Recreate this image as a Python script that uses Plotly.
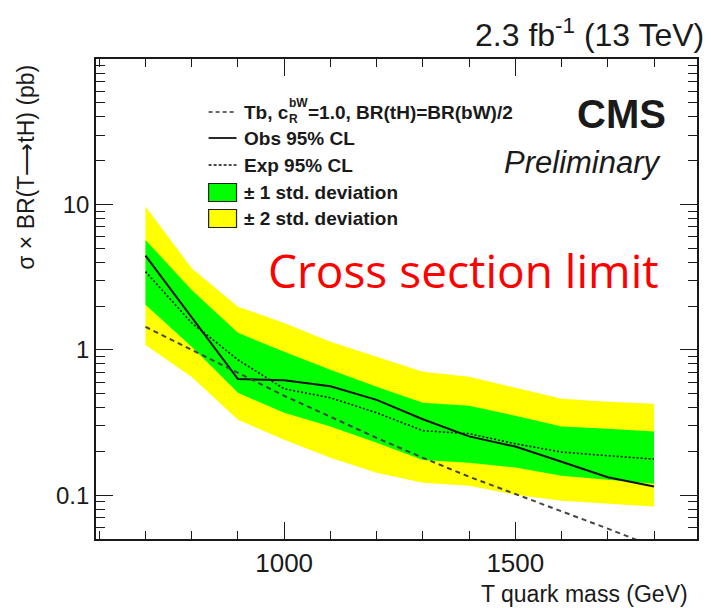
import numpy as np
import plotly.graph_objects as go

# ---------------- data ----------------
mass = [700, 800, 900, 1000, 1100, 1200, 1300, 1400, 1500, 1600, 1700, 1800]
obs_limit = [4.45, 1.66, 0.629, 0.617, 0.561, 0.453, 0.333, 0.254, 0.216, 0.170, 0.133, 0.115]
exp_limit = [3.45, 1.53, 0.854, 0.539, 0.468, 0.369, 0.278, 0.265, 0.226, 0.198, 0.187, 0.177]
one_sigma_up = [5.70, 2.58, 1.31, 0.969, 0.729, 0.557, 0.432, 0.412, 0.352, 0.297, 0.286, 0.274]
one_sigma_dn = [2.04, 1.05, 0.506, 0.369, 0.297, 0.230, 0.175, 0.167, 0.155, 0.136, 0.128, 0.120]
two_sigma_up = [9.66, 3.64, 1.98, 1.53, 1.135, 0.895, 0.706, 0.652, 0.548, 0.460, 0.439, 0.426]
two_sigma_dn = [1.08, 0.65, 0.330, 0.241, 0.181, 0.143, 0.122, 0.116, 0.1007, 0.0917, 0.0874, 0.0838]
theory_xsec = [1.44, 1.00, 0.695, 0.483, 0.347, 0.248, 0.181, 0.134, 0.102, 0.078, 0.0589, 0.0443]

x_major = [1000, 1500]
x_minor = [600, 700, 800, 900, 1100, 1200, 1300, 1400, 1600, 1700, 1800]
y_major = [0.1, 1, 10]
y_major_text = ["0.1", "1", "10"]
y_minor = [0.05, 0.06, 0.07, 0.08, 0.09, 0.2, 0.3, 0.4, 0.5, 0.6, 0.7, 0.8, 0.9,
           2, 3, 4, 5, 6, 7, 8, 9, 20, 30, 40, 50, 60, 70, 80, 90]

legend_labels = ["Obs 95% CL", "Exp 95% CL", "\u00b1 1 std. deviation", "\u00b1 2 std. deviation"]

# ---------------- layout geometry ----------------
W, H = 711, 608
L, R, T, B = 96, 699, 59, 539
FONT = "Liberation Sans, Arial, sans-serif"
INK = "#1a1a1a"


def px(xp):
    return (xp - L) / (R - L)


def py(yp):
    return (B - yp) / (B - T)


fig = go.Figure()

# bands
fig.add_trace(go.Scatter(x=mass + mass[::-1], y=two_sigma_up + two_sigma_dn[::-1],
                         fill="toself", fillcolor="#ffff00", line=dict(width=0),
                         mode="lines", hoverinfo="skip"))
fig.add_trace(go.Scatter(x=mass + mass[::-1], y=one_sigma_up + one_sigma_dn[::-1],
                         fill="toself", fillcolor="#00ff00", line=dict(width=0),
                         mode="lines", hoverinfo="skip"))
# lines
fig.add_trace(go.Scatter(x=mass, y=exp_limit, mode="lines",
                         line=dict(color="#111", width=1.6, dash="2px,2px")))
fig.add_trace(go.Scatter(x=mass, y=obs_limit, mode="lines",
                         line=dict(color="#111", width=2)))
fig.add_trace(go.Scatter(x=mass, y=theory_xsec, mode="lines",
                         line=dict(color="#444", width=2, dash="5px,4px")))

fig.update_layout(
    width=W, height=H,
    margin=dict(l=L, r=W - R, t=T, b=H - B),
    plot_bgcolor="white", paper_bgcolor="white",
    showlegend=False,
    font=dict(family=FONT, color=INK),
)

fig.update_xaxes(
    range=[593, 1893], showgrid=False, zeroline=False,
    showline=True, linecolor=INK, linewidth=1.6, mirror="allticks",
    ticks="inside", ticklen=17, tickwidth=1.4, tickcolor=INK,
    tickmode="array", tickvals=x_major, ticktext=[str(v) for v in x_major],
    tickfont=dict(size=26, family=FONT, color=INK),
    minor=dict(tickmode="array", tickvals=x_minor, ticks="inside", ticklen=8,
               tickwidth=1.2, tickcolor=INK, showgrid=False),
)
fig.update_yaxes(
    type="log", range=[np.log10(0.05), 2], showgrid=False, zeroline=False,
    showline=True, linecolor=INK, linewidth=1.6, mirror="allticks",
    ticks="inside", ticklen=17, tickwidth=1.4, tickcolor=INK,
    tickmode="array", tickvals=y_major, ticktext=y_major_text,
    tickfont=dict(size=24, family=FONT, color=INK),
    minor=dict(tickmode="array", tickvals=y_minor, ticks="inside", ticklen=9,
               tickwidth=1.2, tickcolor=INK, showgrid=False),
)

ann = []


def text(t, xp, yp, size, xanchor="left", yanchor="middle", color=INK, family=FONT,
         angle=0, align="center"):
    ann.append(dict(text=t, x=px(xp), y=py(yp), xref="paper", yref="paper",
                    xanchor=xanchor, yanchor=yanchor, showarrow=False, align=align,
                    borderpad=0, textangle=angle,
                    font=dict(size=size, color=color, family=family)))


# axis titles
text("T quark mass (GeV)", 691, 594, 23, xanchor="right")
text("\u03c3 \u00d7 BR(T\u27f6tH) (pb)", 25, 64, 23, xanchor="center", yanchor="top", angle=-90)
# header
text("2.3 fb<sup>-1</sup> (13 TeV)", 707, 33, 32, xanchor="right")
text("<b>CMS</b>", 669, 114, 40, xanchor="right")
text("<i>Preliminary</i>", 665, 162, 31, xanchor="right")
text("Cross section limit", 662, 270, 46, xanchor="right", color="#ff0000",
     family="Open Sans, Noto Sans, sans-serif")

# legend text
LX = 243
text("<b>Tb, c</b>", LX, 112, 19)
text("<b>bW</b><br><b>R</b>", 289, 111, 12, align="left")
text("<b>=1.0, BR(tH)=BR(bW)/2</b>", 308, 112, 19)
rows = [138, 165, 192.5, 218.5]
for lab, yy in zip(legend_labels, rows):
    text("<b>" + lab + "</b>", LX, yy, 19)

shapes = []
# legend samples
for yy, dash, col in [(112, "4px,3px", "#333"), (138, None, "#111"), (165, "3px,2px", "#111")]:
    shapes.append(dict(type="line", xref="paper", yref="paper",
                       x0=px(209), x1=px(237), y0=py(yy), y1=py(yy),
                       line=dict(color=col, width=1.6, dash=dash) if dash else dict(color=col, width=1.8)))
for yy, col in [(192.5, "#00ff00"), (218.5, "#ffff00")]:
    shapes.append(dict(type="rect", xref="paper", yref="paper",
                       x0=px(209), x1=px(237), y0=py(yy + 9), y1=py(yy - 9),
                       fillcolor=col, line=dict(color="#222", width=1.2)))

fig.update_layout(annotations=ann, shapes=shapes)
fig.write_html("out.html")
